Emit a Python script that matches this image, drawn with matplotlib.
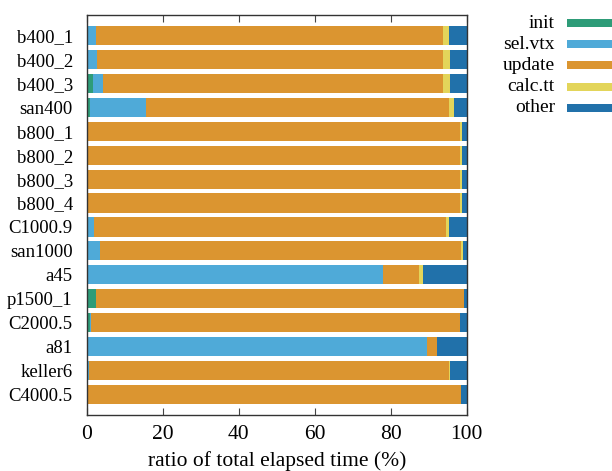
import numpy as np
import matplotlib
matplotlib.use("Agg")
import matplotlib.pyplot as plt
from matplotlib.patches import Rectangle

# instances, top to bottom
instances = ["b400_1", "b400_2", "b400_3", "san400", "b800_1", "b800_2",
             "b800_3", "b800_4", "C1000.9", "san1000", "a45", "p1500_1",
             "C2000.5", "a81", "keller6", "C4000.5"]

# ratio of elapsed time per phase (%)
init = [0.1, 0.1, 1.7, 0.9, 0.2, 0.2, 0.2, 0.2, 0.3, 0.1, 0.1, 2.4, 0.9, 0.2, 0.1, 0.1]
sel_vtx = [2.4, 2.7, 2.7, 14.7, 0.2, 0.2, 0.2, 0.2, 1.6, 3.4, 78.0, 0.1, 0.3, 89.3, 0.5, 0.1]
update = [91.2, 90.9, 89.3, 79.7, 97.8, 97.8, 97.8, 97.8, 92.7, 95.0, 9.3, 96.8, 97.0, 2.6, 94.7, 98.3]
calc_tt = [1.6, 1.9, 1.9, 1.4, 0.5, 0.5, 0.5, 0.5, 0.7, 0.4, 1.0, 0.1, 0.1, 0.1, 0.2, 0.1]

series = ["init", "sel.vtx", "update", "calc.tt", "other"]
colors = ["#2e9c78", "#4faad8", "#db9530", "#e3d55a", "#2171aa"]

plt.rcParams['font.family'] = ['Liberation Serif', 'DejaVu Serif']

init = np.array(init)
sel_vtx = np.array(sel_vtx)
update = np.array(update)
calc_tt = np.array(calc_tt)
other = 100.0 - (init + sel_vtx + update + calc_tt)
values = [init, sel_vtx, update, calc_tt, other]

fig = plt.figure(figsize=(6.12, 4.71), dpi=100)
ax = fig.add_axes([0.1417, 0.119, 0.6209, 0.849])

y = np.arange(len(instances))
left = np.zeros(len(instances))
for vals, col, name in zip(values, colors, series):
    ax.barh(y, vals, left=left, height=0.8, color=col, label=name, linewidth=0)
    left += vals

ax.set_xlim(0, 100)
ax.set_ylim(15.86, -0.86)
ax.set_yticks(y)
ax.set_yticklabels(instances, fontsize=13.5)
ax.set_xticks(np.arange(0, 101, 20))
ax.tick_params(axis='x', direction='in', top=True, length=5, labelsize=15.5,
               color='#444444', pad=7)
ax.tick_params(axis='y', length=0, pad=10)
for sp in ax.spines.values():
    sp.set_color('#333333')
    sp.set_linewidth(1.0)
ax.set_xlabel("ratio of total elapsed time (%)", fontsize=15.5, labelpad=5)

# legend, gnuplot style: right-aligned text, swatch on the right
W, H = 612.0, 471.0
for i, (name, col) in enumerate(zip(series, colors)):
    yc = 23 + i * 21.2
    fig.text(555 / W, 1 - yc / H, name, ha='right', va='center', fontsize=14)
    fig.patches.append(Rectangle((567 / W, 1 - (yc + 4) / H), 46 / W, 8 / H,
                                 transform=fig.transFigure, color=col,
                                 linewidth=0))

fig.savefig("out.png", dpi=100)
